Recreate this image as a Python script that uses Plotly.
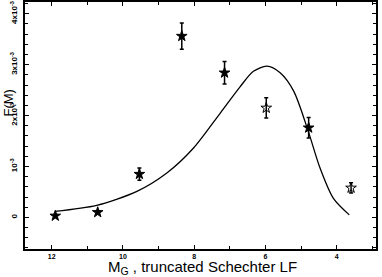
import plotly.graph_objects as go

# Data points (magnitude, F(M), error)
mag_obs = [11.9, 10.71, 9.54, 8.35, 7.15, 5.98, 4.79, 3.60]
f_obs = [0.03e-3, 0.10e-3, 0.85e-3, 3.56e-3, 2.84e-3, 2.15e-3, 1.76e-3, 0.58e-3]
f_err = [0.03e-3, 0.03e-3, 0.12e-3, 0.26e-3, 0.22e-3, 0.20e-3, 0.20e-3, 0.10e-3]
symbols = ["star", "star", "star", "star", "star", "star-open", "star", "star-open"]

# Model curve (truncated Schechter LF)
mag_fit = [11.91, 10.74, 9.61, 8.77, 8.02, 7.27, 6.71, 6.34, 5.96, 5.59, 5.21, 4.80, 4.47, 4.10, 3.65]
f_fit = [0.118e-3, 0.236e-3, 0.511e-3, 0.872e-3, 1.363e-3, 2.05e-3, 2.57e-3, 2.87e-3,
         2.97e-3, 2.84e-3, 2.48e-3, 1.69e-3, 0.97e-3, 0.38e-3, 0.05e-3]

x_ticks = [12, 10, 8, 6, 4]
y_ticks = [0, 1e-3, 2e-3, 3e-3, 4e-3]
y_ticklabels = ["0", "10<sup>-3</sup>", "2x10<sup>-3</sup>", "3x10<sup>-3</sup>", "4x10<sup>-3</sup>"]

W, H = 382, 277
l, r, t, b = 25, 6, 2, 28
pw, ph = W - l - r, H - t - b

fig = go.Figure()
fig.add_trace(go.Scatter(
    x=mag_fit, y=f_fit, mode="lines", line=dict(color="black", width=1.3, shape="spline", smoothing=0.8),
    hoverinfo="skip", showlegend=False))
fig.add_trace(go.Scatter(
    x=mag_obs, y=f_obs, mode="markers",
    marker=dict(symbol=symbols, size=8, color="black", line=dict(color="black", width=1)),
    error_y=dict(type="data", array=f_err, color="black", thickness=1.5, width=2),
    showlegend=False))

fig.update_layout(
    width=W, height=H,
    margin=dict(l=l, r=r, t=t, b=b),
    paper_bgcolor="white", plot_bgcolor="white",
    xaxis=dict(range=[12.75, 2.9], tickvals=x_ticks, ticktext=[f"<b>{v}</b>" for v in x_ticks],
               ticks="inside", ticklen=4, tickwidth=1, tickcolor="black", automargin=False,
               showline=True, linecolor="black", linewidth=1.5, mirror="allticks",
               showgrid=False, zeroline=False,
               tickfont=dict(family="Liberation Sans", size=7, color="black"),
               minor=dict(dtick=1, ticks="inside", ticklen=3, tickcolor="black", showgrid=False)),
    yaxis=dict(range=[-0.62e-3, 4.23e-3], tickvals=y_ticks, ticktext=[f"<b>{t}</b>" for t in y_ticklabels],
               tickangle=-90, ticks="inside", ticklen=4, tickwidth=1, tickcolor="black", automargin=False,
               showline=True, linecolor="black", linewidth=1.5, mirror="allticks",
               showgrid=False, zeroline=False, ticklabelstandoff=3,
               tickfont=dict(family="Liberation Sans", size=8, color="black"),
               minor=dict(dtick=0.2e-3, ticks="inside", ticklen=3, tickcolor="black", showgrid=False)),
    annotations=[
        dict(text="F(M)", x=(7.5 - l) / pw, y=(H - b - 103) / ph, xref="paper", yref="paper",
             xanchor="center", yanchor="middle", showarrow=False, textangle=-90,
             font=dict(family="Liberation Sans", size=13, color="black")),
        dict(text="M<sub>G</sub> , truncated Schechter LF", x=(202 - l) / pw, y=(H - b - 267.5) / ph,
             xref="paper", yref="paper", xanchor="center", yanchor="middle", showarrow=False,
             font=dict(family="Liberation Sans", size=15, color="black")),
    ],
)
fig.write_html("out.html", config={"displayModeBar": False},
               post_script="document.body.style.margin='0';document.body.style.padding='0';")
